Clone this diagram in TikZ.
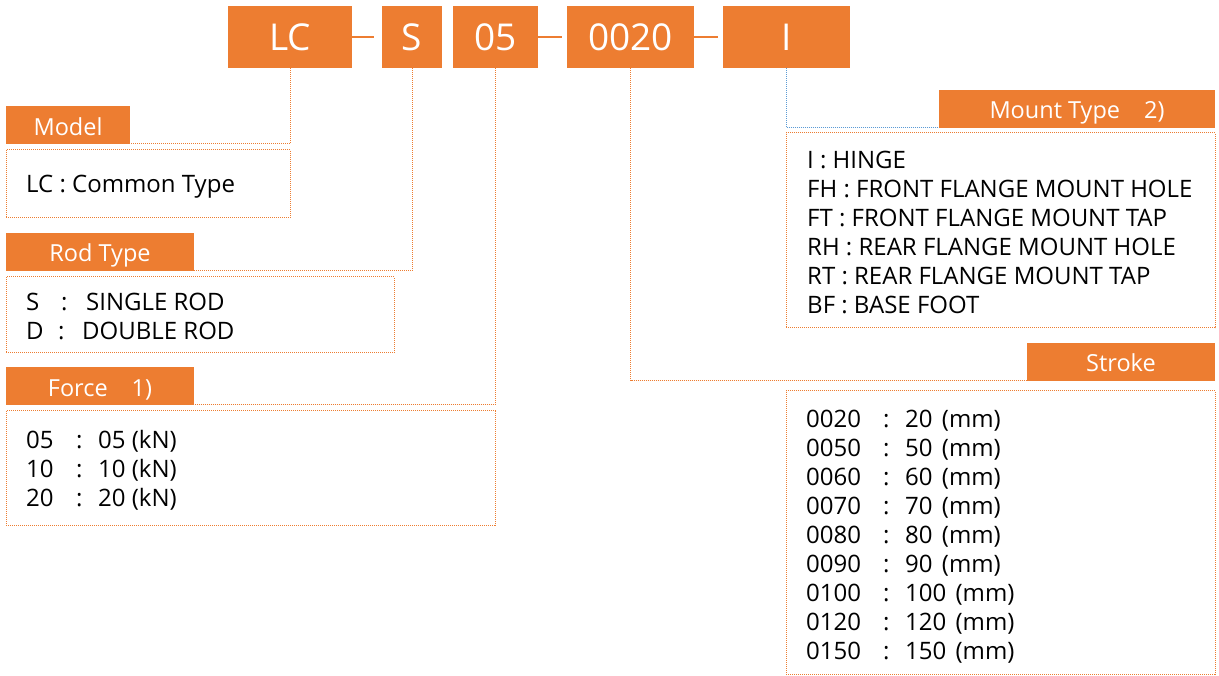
\documentclass[tikz,border=0pt]{standalone}
\usepackage{fontspec}
\setmainfont{Open Sans}
\definecolor{og}{HTML}{ED7D31}
\definecolor{bl}{HTML}{5B9BD5}
\newcommand{\labtxt}[1]{\raisebox{-10pt}[0pt][0pt]{#1}}
\begin{document}
\begin{tikzpicture}[x=1pt,y=-1pt,
  topbox/.style={fill=og, text=white, inner sep=0pt, minimum height=62pt, font=\fontsize{37}{44}\selectfont},
  labbox/.style={fill=og, text=white, inner sep=0pt, minimum height=38pt, font=\fontsize{23.5}{29}\selectfont},
  content/.style={draw=og, line width=1pt, dash pattern=on 1pt off 1pt, inner sep=0pt},
  conn/.style={draw=og, line width=1pt, dash pattern=on 1pt off 1pt},
  dashln/.style={draw=og, line width=1.5pt},
  body/.style={anchor=west, inner sep=0pt, align=left, font=\fontsize{24}{29}\selectfont}]
\useasboundingbox (0,0) rectangle (1219,676);
\fill[white] (0,0) rectangle (1219,676);
% top code boxes
\node[topbox, minimum width=124pt] (lc) at (290,37) {LC};
\node[topbox, minimum width=60pt] (s) at (412,37) {S};
\node[topbox, minimum width=85pt] (f05) at (495.5,37) {05};
\node[topbox, minimum width=127pt] (st) at (630.5,37) {0020};
\node[topbox, minimum width=127pt] (mt) at (786.5,37) {I};
\draw[dashln] (lc.east) -- ([xshift=-8pt]s.west);
\draw[dashln] (f05.east) -- ([xshift=-5pt]st.west);
\draw[dashln] (st.east) -- ([xshift=-5pt]mt.west);
% content boxes
\node[content, minimum width=284pt, minimum height=68pt] (modelbox) at (148,184) {};
\node[content, minimum width=388pt, minimum height=76pt] (rodbox) at (200,315) {};
\node[content, minimum width=489pt, minimum height=114pt] (forcebox) at (250.5,468) {};
\node[content, minimum width=429pt, minimum height=195pt] (mountbox) at (1000.5,230.5) {};
\node[content, minimum width=429pt, minimum height=283pt] (strokebox) at (1000.5,532.5) {};
% connector ends
\coordinate (mtend) at (1018,128);
\coordinate (stend) at (1060,381);
\coordinate (rodend) at (25,271);
\coordinate (forceend) at (25,405);
\coordinate (modelend) at (25,144);
\draw[conn] (lc.south) |- (modelend);
\draw[conn] (s.south) |- (rodend);
\draw[conn] (f05.south) |- (forceend);
\draw[conn] (st.south) |- (stend);
\draw[conn, draw=bl] (mt.south) |- (mtend);
% labels
\node[labbox, minimum width=124pt] (modellab) at (68,125.5) {\labtxt{Model}};
\node[labbox, minimum width=188pt] (rodlab) at (100,252) {\labtxt{Rod Type}};
\node[labbox, minimum width=188pt] (forcelab) at (100,386) {\labtxt{Force\hspace{24pt}1)}};
\node[labbox, minimum width=276pt] (mountlab) at (1077,109) {\labtxt{Mount Type\hspace{24pt}2)}};
\node[labbox, minimum width=188pt] (strokelab) at (1121,362) {\labtxt{Stroke}};
% texts
\node[body] (modeltxt) at (26,187) {LC : Common Type};
\node[body] (rodtxt) at (26,316.5) {\makebox[35pt][l]{S}\makebox[25pt][l]{:}SINGLE ROD\\
\makebox[32pt][l]{D}\makebox[24pt][l]{:}DOUBLE ROD};
\node[body] (forcetxt) at (26,471.5) {\begin{tabular}{@{}p{50pt}@{}p{22pt}@{}l@{}}
05 & : & 05 (kN)\\
10 & : & 10 (kN)\\
20 & : & 20 (kN)
\end{tabular}};
\node[body] (mounttxt) at (807,232.5) {I : HINGE\\
FH : FRONT FLANGE MOUNT HOLE\\
FT : FRONT FLANGE MOUNT TAP\\
RH : REAR FLANGE MOUNT HOLE\\
RT : REAR FLANGE MOUNT TAP\\
BF : BASE FOOT};
\node[body] (stroketxt) at (806,537.5) {\begin{tabular}{@{}p{77pt}@{}p{22pt}@{}l@{}}
0020 & : & 20\hspace{3pt} (mm)\\
0050 & : & 50\hspace{3pt} (mm)\\
0060 & : & 60\hspace{3pt} (mm)\\
0070 & : & 70\hspace{3pt} (mm)\\
0080 & : & 80\hspace{3pt} (mm)\\
0090 & : & 90\hspace{3pt} (mm)\\
0100 & : & 100\hspace{3pt} (mm)\\
0120 & : & 120\hspace{3pt} (mm)\\
0150 & : & 150\hspace{3pt} (mm)
\end{tabular}};
\end{tikzpicture}
\end{document}
